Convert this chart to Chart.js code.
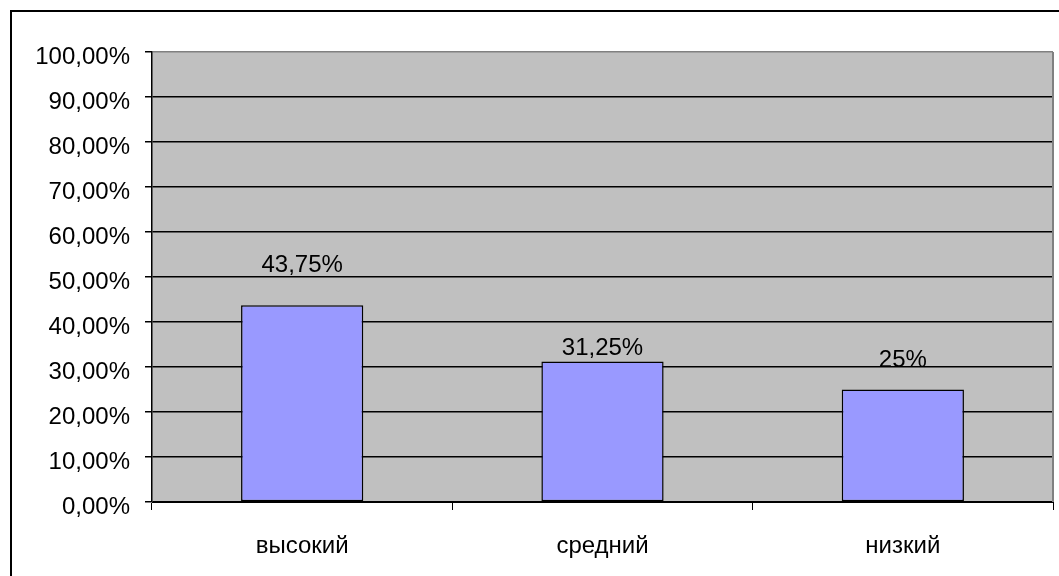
<!DOCTYPE html>
<html>
<head>
<meta charset="utf-8">
<script src="https://cdn.jsdelivr.net/npm/chart.js@4.4.1/dist/chart.umd.min.js"></script>
<style>
  html, body { margin: 0; padding: 0; background: #fff; }
  canvas { display: block; }
</style>
</head>
<body>
<canvas id="levelChart" width="1059" height="576"></canvas>
<script>
// levels and their share, in percent
const levels = ["высокий", "средний", "низкий"];
const shares = [43.75, 31.25, 25];
const yTicks = [0, 10, 20, 30, 40, 50, 60, 70, 80, 90, 100];

// how far each value label sits above its bar (px)
const labelLift = [40, 13, 29];

const FONT = "Arial, 'Liberation Sans', sans-serif";
const FONT_SIZE = 24;

function pctLabel(v) {
    // 43.75 -> "43,75%", 25 -> "25%"
    return String(v).replace(".", ",") + "%";
}

const frame = {
    id: "frame",
    beforeDraw(chart) {
        const c = chart.ctx;
        const a = chart.chartArea;
        c.save();
        c.fillStyle = "#ffffff";
        c.fillRect(0, 0, chart.width, chart.height);
        c.fillStyle = "#c0c0c0";
        c.fillRect(a.left, a.top, a.right - a.left, a.bottom - a.top);
        // outer border, runs off the right and bottom edge
        c.strokeStyle = "#000";
        c.lineWidth = 2;
        c.strokeRect(11, 11, chart.width + 20, chart.height + 20);
        c.restore();
    },
    beforeDatasetsDraw(chart) {
        const c = chart.ctx;
        const a = chart.chartArea;
        c.save();
        c.strokeStyle = "#808080";
        c.lineWidth = 2;
        c.beginPath();
        c.moveTo(a.right, a.top);
        c.lineTo(a.right, a.bottom);
        c.stroke();
        c.restore();
    },
    afterDatasetsDraw(chart) {
        const c = chart.ctx;
        const meta = chart.getDatasetMeta(0);
        c.save();
        c.font = FONT_SIZE + "px " + FONT;
        c.fillStyle = "#000";
        c.textAlign = "center";
        c.textBaseline = "middle";
        meta.data.forEach((bar, i) => {
            c.fillText(pctLabel(shares[i]), bar.x, bar.y - labelLift[i]);
        });
        c.restore();
    }
};

new Chart(document.getElementById("levelChart"), {
    type: "bar",
    data: {
        labels: levels,
        datasets: [{
            data: shares,
            backgroundColor: "#9999ff",
            borderColor: "#000000",
            borderWidth: 1.5,
            borderSkipped: false,
            categoryPercentage: 1,
            barPercentage: 0.407
        }]
    },
    options: {
        responsive: false,
        animation: false,
        layout: { padding: { left: 0, top: 52, right: 6, bottom: 0 } },
        plugins: {
            legend: { display: false },
            tooltip: { enabled: false }
        },
        scales: {
            x: {
                grid: {
                    offset: true,
                    drawOnChartArea: false,
                    drawTicks: true,
                    tickLength: 8,
                    color: "#000",
                    lineWidth: 1
                },
                border: { color: "#000", width: 1 },
                ticks: {
                    color: "#000",
                    font: { family: FONT, size: FONT_SIZE },
                    padding: 22,
                    maxRotation: 0
                },
                afterFit(scale) { scale.height = 74; }
            },
            y: {
                min: 0,
                max: 100,
                afterBuildTicks(scale) {
                    scale.ticks = yTicks.map(v => ({ value: v }));
                },
                grid: {
                    color: ctx => (ctx.tick && ctx.tick.value === 100 ? "#808080" : "#000"),
                    tickColor: "#000",
                    lineWidth: 1.5,
                    tickLength: 7
                },
                border: { color: "#000", width: 1.5 },
                ticks: {
                    color: "#000",
                    font: { family: FONT, size: FONT_SIZE },
                    padding: 15,
                    labelOffset: 5,
                    callback: v => v.toFixed(2).replace(".", ",") + "%"
                },
                afterFit(scale) { scale.width = 152; }
            }
        }
    },
    plugins: [frame]
});
</script>
</body>
</html>
